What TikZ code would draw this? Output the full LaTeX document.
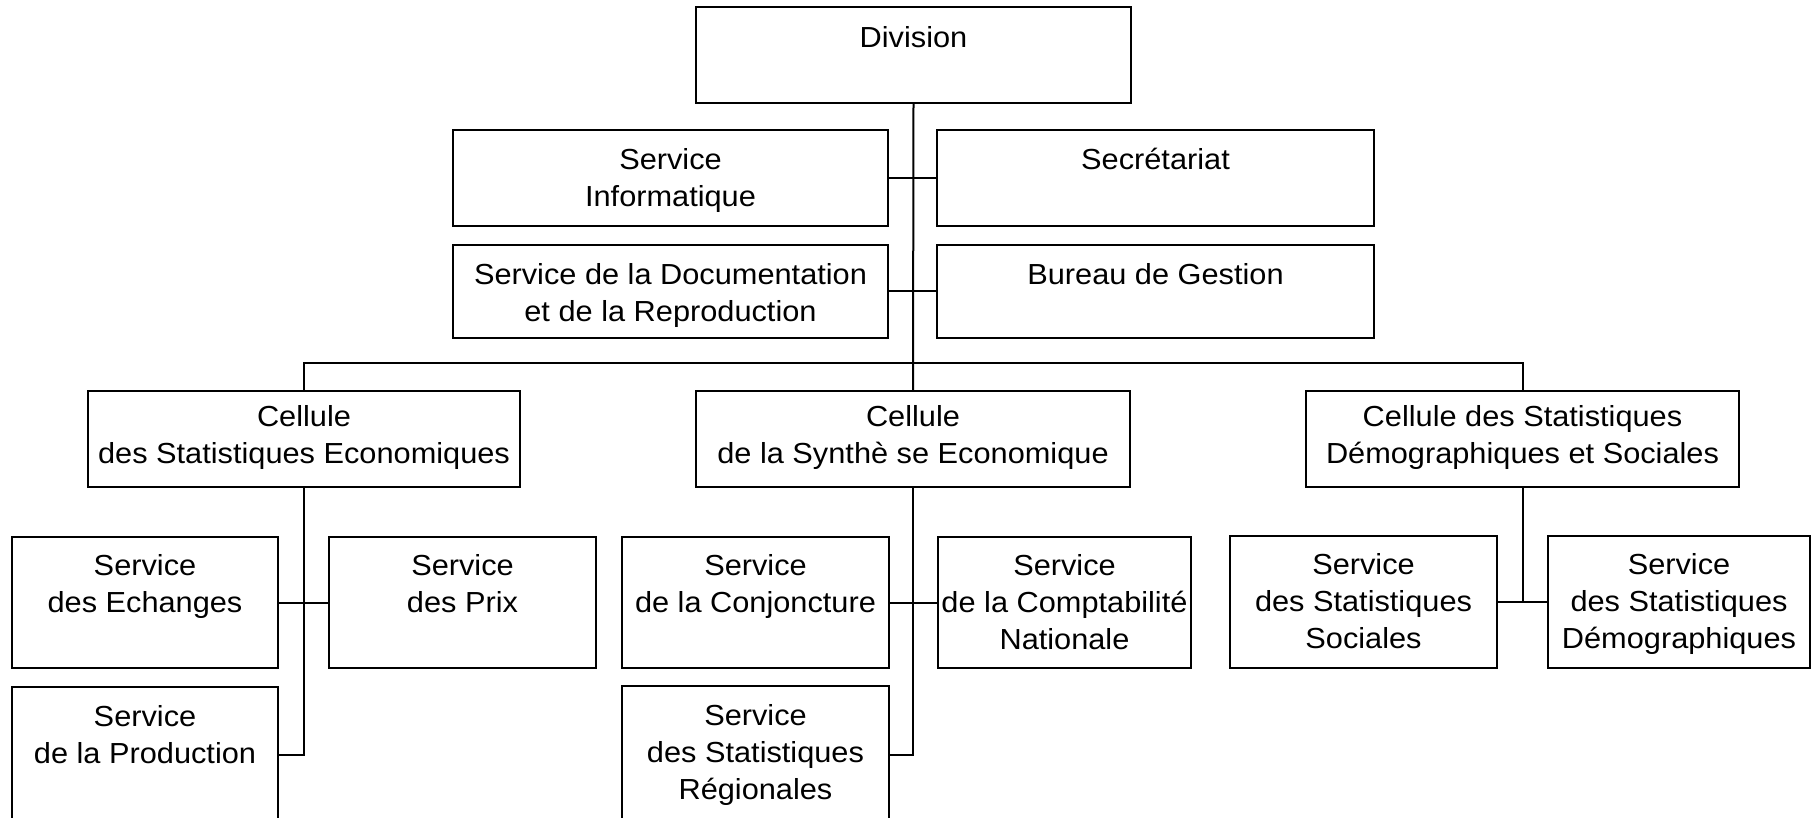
\documentclass[tikz,border=0pt]{standalone}
\usepackage{fontspec}
\setmainfont[FakeStretch=1.06]{Liberation Sans}
\usetikzlibrary{fit}
\tikzset{
  boxframe/.style={draw, line width=1pt, inner sep=0pt, rectangle},
  boxtext/.style={anchor=north, align=center, inner sep=0pt, font=\fontsize{14.5}{18.7}\selectfont},
  link/.style={line width=1pt}
}
\newcommand{\orgbox}[7]{%
  \node[boxframe, fit={(#2,#3)(#4,#5)}] (#1) {};
  \node[boxtext] (#1t) at ([yshift=-#6]#1.north) {#7};
}
\begin{document}
\begin{tikzpicture}[x=0.5pt,y=-0.5pt]
\clip (0,0) rectangle (1812,818);
\fill[white] (0,0) rectangle (1812,818);
% top level
\orgbox{div}{696}{7}{1131}{103}{9.8pt}{Division}
\orgbox{inf}{453}{130}{888}{226}{9.3pt}{Service\\Informatique}
\orgbox{sec}{937}{130}{1374}{226}{9.3pt}{Secrétariat}
\orgbox{doc}{453}{245}{888}{338}{9.3pt}{Service de la Documentation\\et de la Reproduction}
\orgbox{bur}{937}{245}{1374}{338}{9.3pt}{Bureau de Gestion}
% cellules
\orgbox{eco}{88}{391}{520}{487}{7.3pt}{Cellule\\des Statistiques Economiques}
\orgbox{syn}{696}{391}{1130}{487}{7.3pt}{Cellule\\de la Synthè se Economique}
\orgbox{demo}{1306}{391}{1739}{487}{7.3pt}{Cellule des Statistiques\\Démographiques et Sociales}
% services
\orgbox{ech}{12}{537}{278}{668}{8.8pt}{Service\\des Echanges}
\orgbox{prix}{329}{537}{596}{668}{8.8pt}{Service\\des Prix}
\orgbox{prod}{12}{687}{278}{823}{9.3pt}{Service\\de la Production}
\orgbox{conj}{622}{537}{889}{668}{8.8pt}{Service\\de la Conjoncture}
\orgbox{compt}{938}{537}{1191}{668}{8.8pt}{Service\\de la Comptabilité\\Nationale}
\orgbox{reg}{622}{686}{889}{824}{9.3pt}{Service\\des Statistiques\\Régionales}
\orgbox{soc}{1230}{536}{1497}{668}{8.8pt}{Service\\des Statistiques\\Sociales}
\orgbox{demog}{1548}{536}{1810}{668}{8.8pt}{Service\\des Statistiques\\Démographiques}
% connectors
\draw[link] (div.south) -- (syn.north);
\draw[link] (inf.east) -- (sec.west);
\draw[link] (doc.east) -- (bur.west);
\draw[link] (eco.north) -- ++(0,-27) -| (demo.north);
\draw[link] (ech.east) -- (prix.west);
\draw[link] (eco.south) |- (prod.east);
\draw[link] (conj.east) -- (compt.west);
\draw[link] (syn.south) |- (reg.east);
\draw[link] (soc.east) -- (demog.west);
\draw[link] (demo.south) -- (demo.south |- soc.east);
\end{tikzpicture}
\end{document}
